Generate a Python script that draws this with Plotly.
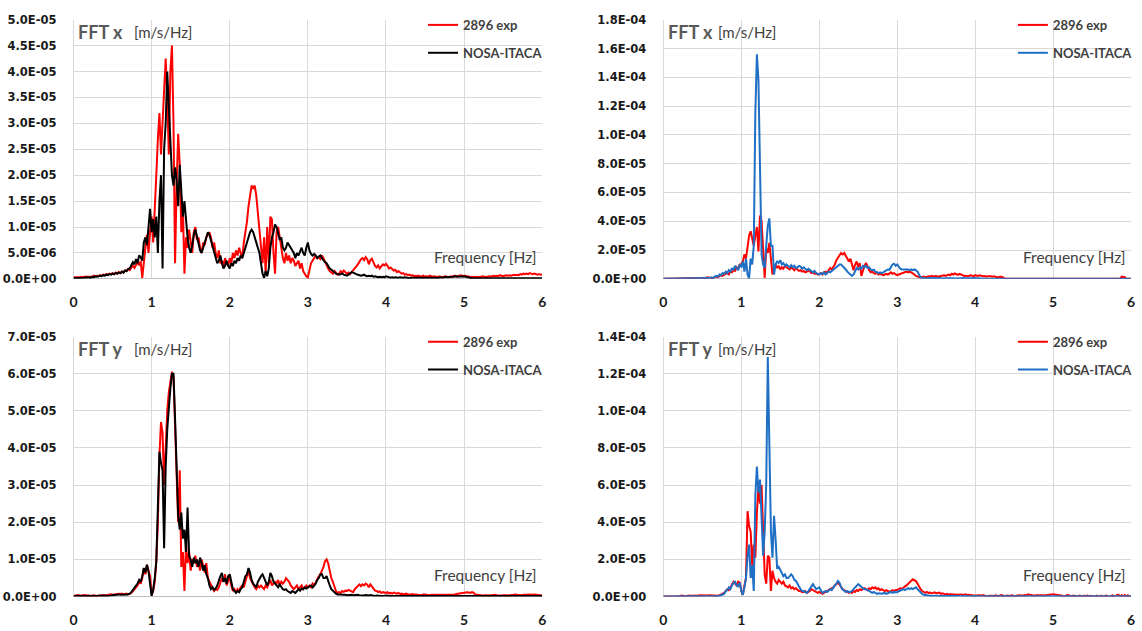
import numpy as np
import plotly.graph_objects as go

# ---------------- data (amplitudes in units of 1e-6 m/s/Hz) ----------------
# frequency grid: 0.00 .. 6.00 Hz, step 0.02 Hz (301 samples)
freq = np.round(np.arange(301) * 0.02, 2)

x_exp_left = [
    0.3, 0.3, 0.2, 0.3, 0.3, 0.4, 0.3, 0.4, 0.4, 0.5,
    0.4, 0.5, 0.4, 0.6, 0.5, 0.6, 0.5, 0.7, 0.6, 0.8,
    0.7, 0.9, 0.8, 1.0, 0.9, 1.1, 0.9, 1.2, 1.0, 1.3,
    1.1, 1.4, 1.2, 1.6, 1.5, 1.9, 1.7, 2.2, 2.5, 2.1,
    2.8, 3.2, 2.6, 3.4, 0.2, 3.5, 6.0, 8.5, 5.0, 9.0,
    12.0, 7.0, 15.0, 20.0, 27.0, 32.0, 24.0, 30.0, 38.0, 42.5,
    35.0, 24.0, 40.0, 45.0, 30.0, 3.0, 18.0, 28.0, 22.0, 9.0,
    14.0, 1.0, 8.0, 6.0, 9.5, 7.0, 5.0, 9.0, 10.0, 7.5,
    8.0, 6.0, 5.0, 7.0, 6.5, 8.0, 8.5, 9.0, 8.0, 6.0,
    7.0, 5.0, 4.0, 5.5, 3.0, 3.5, 2.5, 4.0, 3.0, 2.5,
    4.0, 3.0, 5.0, 4.0, 5.5, 4.5, 6.0, 5.0, 4.0, 7.0,
    9.0, 11.0, 14.0, 16.5, 18.0, 17.5, 18.0, 16.0, 13.0, 10.0,
    6.0, 3.0, 8.0, 1.0, 10.0, 3.0, 12.0, 11.5, 5.0, 1.0,
    9.0, 10.0, 8.0, 6.0, 4.0, 3.0, 5.0, 3.5, 4.5, 3.0,
    4.0, 3.5, 2.5, 3.0, 3.5, 2.0, 3.0, 1.5, 1.0, 0.5,
    0.3, 2.0, 3.0, 3.5, 4.0, 4.5, 4.0, 4.2, 3.8, 4.5,
    4.0, 3.2, 2.5, 2.0, 1.5, 1.2, 1.0, 1.5, 1.2, 0.8,
    1.0, 1.5, 1.2, 1.6, 1.3, 1.0, 1.2, 0.9, 1.3, 1.6,
    2.0, 2.4, 2.8, 3.4, 3.8, 4.0, 3.6, 4.2, 3.8, 2.8,
    3.6, 3.9, 3.2, 2.5, 2.2, 2.6, 2.0, 2.4, 2.8, 2.6,
    2.9, 2.5, 2.0, 2.2, 1.8, 1.6, 1.7, 1.3, 1.5, 1.2,
    1.0, 1.1, 0.8, 0.9, 0.7, 0.8, 0.6, 0.7, 0.5, 0.6,
    0.5, 0.6, 0.4, 0.5, 0.6, 0.4, 0.5, 0.4, 0.6, 0.5,
    0.4, 0.5, 0.4, 0.3, 0.5, 0.4, 0.3, 0.4, 0.5, 0.4,
    0.3, 0.4, 0.5, 0.4, 0.6, 0.5, 0.4, 0.6, 0.7, 0.6,
    0.5, 0.6, 0.4, 0.5, 0.3, 0.4, 0.3, 0.4, 0.3, 0.4,
    0.3, 0.4, 0.5, 0.4, 0.3, 0.4, 0.5, 0.4, 0.5, 0.6,
    0.5, 0.6, 0.5, 0.7, 0.6, 0.5, 0.6, 0.7, 0.6, 0.7,
    0.6, 0.7, 0.8, 0.7, 0.8, 0.7, 0.9, 0.8, 1.0, 0.9,
    1.0, 0.9, 1.1, 1.0, 0.9, 1.0, 0.9, 0.8, 0.9, 0.8,
    0.8,
]

x_nosa_left = [
    0.1, 0.1, 0.2, 0.1, 0.2, 0.2, 0.1, 0.2, 0.3, 0.2,
    0.3, 0.2, 0.4, 0.3, 0.5, 0.4, 0.5, 0.6, 0.5, 0.7,
    0.6, 0.8, 0.7, 0.9, 0.8, 1.0, 0.9, 1.1, 1.0, 1.2,
    1.1, 1.4, 1.2, 1.6, 1.5, 1.9, 2.0, 2.6, 3.2, 2.8,
    3.8, 3.0, 4.5, 4.2, 3.5, 7.0, 8.0, 6.5, 9.5, 13.5,
    9.0, 11.5, 8.0, 12.0, 5.0, 15.0, 20.0, 2.0, 25.0, 30.0,
    40.0, 33.0, 24.0, 20.0, 18.0, 21.5, 19.0, 14.0, 22.0, 16.0,
    12.0, 15.0, 11.0, 8.0, 6.0, 5.0, 6.5, 8.5, 9.5, 8.0,
    7.0, 5.5, 5.0, 6.0, 7.0, 8.0, 9.0, 8.5, 7.5, 6.5,
    5.0, 4.0, 3.0, 3.5, 4.5, 3.0, 2.0, 2.5, 3.5, 2.5,
    2.0, 3.0, 2.5, 3.5, 3.0, 4.0, 3.5, 4.5, 4.0, 5.0,
    6.0, 7.0, 8.0, 9.0, 9.5, 9.0, 8.0, 7.0, 6.0, 5.0,
    3.0, 1.0, 0.2, 1.5, 0.5, 2.0, 6.0, 8.0, 9.0, 10.5,
    10.0, 9.0, 7.5, 8.0, 6.0, 5.5, 6.0, 7.0, 6.5, 6.0,
    5.5, 5.0, 4.0, 5.0, 4.5, 5.5, 6.0, 5.0, 4.5, 6.0,
    7.0, 5.5, 4.8, 4.5, 4.8, 4.5, 4.0, 4.3, 4.5, 4.0,
    3.5, 3.2, 3.0, 2.5, 2.0, 1.8, 1.5, 1.2, 1.0, 0.9,
    0.8, 0.9, 1.0, 0.8, 0.7, 0.6, 0.8, 1.0, 1.3, 1.2,
    1.0, 0.9, 0.8, 0.7, 0.6, 0.7, 0.8, 0.6, 0.5, 0.6,
    0.5, 0.6, 0.4, 0.5, 0.4, 0.3, 0.4, 0.3, 0.4, 0.3,
    0.5, 0.4, 0.3, 0.2, 0.3, 0.2, 0.3, 0.2, 0.2, 0.3,
    0.2, 0.2, 0.3, 0.2, 0.2, 0.1, 0.2, 0.2, 0.1, 0.2,
    0.2, 0.1, 0.2, 0.2, 0.1, 0.2, 0.1, 0.1, 0.2, 0.1,
    0.1, 0.2, 0.1, 0.2, 0.2, 0.3, 0.2, 0.3, 0.3, 0.4,
    0.3, 0.4, 0.3, 0.4, 0.5, 0.4, 0.5, 0.4, 0.5, 0.4,
    0.5, 0.4, 0.3, 0.2, 0.2, 0.1, 0.1, 0.1, 0.1, 0.1,
    0.1, 0.2, 0.1, 0.1, 0.2, 0.1, 0.1, 0.1, 0.2, 0.1,
    0.1, 0.1, 0.2, 0.1, 0.1, 0.1, 0.2, 0.1, 0.1, 0.1,
    0.1, 0.2, 0.1, 0.1, 0.1, 0.2, 0.1, 0.1, 0.1, 0.2,
    0.1, 0.1, 0.1, 0.2, 0.1, 0.1, 0.1, 0.1, 0.2, 0.1,
    0.1,
]

y_exp_left = [
    0.2, 0.3, 0.2, 0.4, 0.3, 0.2, 0.3, 0.4, 0.3, 0.2,
    0.3, 0.2, 0.3, 0.4, 0.3, 0.2, 0.3, 0.4, 0.3, 0.4,
    0.3, 0.4, 0.5, 0.4, 0.6, 0.5, 0.6, 0.7, 0.6, 0.8,
    0.7, 0.8, 0.6, 0.7, 0.8, 0.6, 0.7, 1.0, 1.5, 2.0,
    2.5, 3.0, 4.0, 3.5, 5.0, 7.5, 6.0, 8.5, 7.0, 5.5,
    0.5, 1.5, 4.0, 9.5, 20.0, 38.0, 47.0, 44.0, 30.0, 41.0,
    50.0, 55.0, 58.0, 60.5, 59.0, 45.0, 31.0, 20.0, 34.0, 8.0,
    12.0, 1.5, 14.0, 9.0, 12.0, 7.0, 10.0, 9.0, 11.0, 8.0,
    9.5, 7.0, 10.0, 8.0, 6.5, 9.0, 5.0, 4.0, 3.0, 2.0,
    1.5, 2.0, 1.8, 2.5, 3.5, 5.0, 4.0, 6.0, 3.0, 4.5,
    5.5, 3.0, 1.5, 2.0, 1.0, 2.0, 1.5, 2.5, 3.0, 2.5,
    4.0, 6.0, 7.0, 5.0, 4.0, 3.0, 2.5, 2.0, 3.0, 2.5,
    3.0, 2.5, 2.0, 3.0, 2.5, 3.5, 4.5, 3.0, 3.5, 4.0,
    3.5, 4.5, 3.0, 4.0, 3.5, 4.0, 5.0, 4.5, 4.0, 3.0,
    2.5, 2.0, 2.5, 3.0, 2.0, 2.5, 3.0, 2.0, 2.5, 3.0,
    2.5, 3.0, 2.5, 3.5, 3.0, 4.0, 5.0, 5.5, 6.0, 6.8,
    8.0, 9.5, 10.0, 9.0, 6.5, 5.0, 4.0, 2.5, 1.5, 1.0,
    1.2, 1.0, 1.5, 1.3, 1.6, 1.5, 1.8, 1.6, 1.5, 1.2,
    2.0, 2.5, 3.0, 3.3, 2.8, 3.3, 3.0, 3.5, 3.2, 2.5,
    3.3, 2.8, 2.0, 1.6, 1.5, 1.2, 1.4, 1.0, 1.2, 1.0,
    1.0, 1.2, 0.9, 1.0, 0.8, 1.1, 0.9, 0.8, 1.0, 0.7,
    0.8, 0.6, 0.7, 0.8, 0.6, 0.5, 0.6, 0.7, 0.5, 0.6,
    0.5, 0.6, 0.5, 0.4, 0.6, 0.5, 0.6, 0.5, 0.4, 0.5,
    0.5, 0.4, 0.6, 0.5, 0.4, 0.5, 0.6, 0.5, 0.4, 0.5,
    0.4, 0.5, 0.6, 0.5, 0.6, 0.7, 0.8, 0.9, 1.0, 1.1,
    1.2, 1.1, 1.2, 1.1, 1.0, 1.2, 1.1, 0.6, 0.5, 0.4,
    0.5, 0.4, 0.3, 0.4, 0.5, 0.4, 0.3, 0.4, 0.3, 0.4,
    0.5, 0.4, 0.3, 0.4, 0.3, 0.4, 0.5, 0.4, 0.3, 0.4,
    0.5, 0.4, 0.5, 0.6, 0.5, 0.4, 0.5, 0.4, 0.5, 0.4,
    0.5, 0.6, 0.5, 0.4, 0.5, 0.6, 0.5, 0.4, 0.3, 0.4,
    0.3,
]

y_nosa_left = [
    0.1, 0.2, 0.1, 0.2, 0.1, 0.2, 0.2, 0.1, 0.2, 0.2,
    0.2, 0.1, 0.2, 0.2, 0.1, 0.2, 0.2, 0.3, 0.2, 0.3,
    0.3, 0.2, 0.3, 0.4, 0.3, 0.4, 0.5, 0.4, 0.5, 0.6,
    0.5, 0.6, 0.5, 0.6, 0.5, 0.6, 0.8, 1.2, 1.8, 2.4,
    3.0, 3.5, 4.5, 4.0, 5.5, 7.7, 6.5, 8.6, 6.8, 4.0,
    0.2, 2.0, 5.0, 9.5, 25.0, 39.0, 36.0, 34.0, 13.0, 35.0,
    45.0, 52.0, 56.0, 60.0, 60.0, 48.0, 31.0, 22.0, 18.0, 22.6,
    15.6, 18.0, 12.0, 24.0, 11.0, 10.0, 8.0, 10.5, 9.0, 10.0,
    8.0, 10.5, 9.0, 7.0, 8.5, 6.0, 5.0, 3.0, 2.0, 2.5,
    1.8, 2.2, 3.0, 4.5, 5.5, 6.4, 4.0, 5.0, 3.5, 5.5,
    6.0, 4.0, 2.0, 1.6, 1.0, 1.5, 1.2, 2.0, 2.5, 4.0,
    5.5, 6.0, 7.7, 6.5, 4.5, 3.5, 3.0, 2.5, 4.0, 5.0,
    5.5, 6.0, 5.0, 4.0, 3.0, 4.0, 6.4, 5.5, 4.0, 3.5,
    3.0, 2.5, 3.3, 2.5, 2.0, 1.8, 2.0, 1.5, 1.2, 1.0,
    1.5, 1.2, 1.0, 1.5, 2.0, 1.6, 2.2, 2.0, 2.5, 2.2,
    2.5, 2.8, 3.0, 2.5, 3.0, 3.5, 4.5, 5.0, 6.0, 6.0,
    5.0, 5.0, 5.5, 4.0, 3.0, 2.0, 1.5, 1.0, 0.8, 0.6,
    0.7, 0.6, 0.5, 0.6, 0.5, 0.4, 0.5, 0.4, 0.5, 0.4,
    0.5, 0.4, 0.5, 0.4, 0.3, 0.4, 0.3, 0.4, 0.3, 0.3,
    0.4, 0.3, 0.3, 0.2, 0.3, 0.2, 0.3, 0.2, 0.2, 0.3,
    0.2, 0.3, 0.2, 0.2, 0.1, 0.2, 0.2, 0.3, 0.2, 0.2,
    0.2, 0.1, 0.2, 0.2, 0.3, 0.2, 0.2, 0.1, 0.2, 0.2,
    0.2, 0.2, 0.1, 0.2, 0.2, 0.2, 0.3, 0.2, 0.2, 0.1,
    0.2, 0.2, 0.2, 0.1, 0.2, 0.2, 0.2, 0.2, 0.1, 0.2,
    0.2, 0.2, 0.3, 0.2, 0.2, 0.2, 0.1, 0.2, 0.2, 0.2,
    0.2, 0.3, 0.2, 0.2, 0.2, 0.1, 0.2, 0.2, 0.2, 0.2,
    0.1, 0.2, 0.2, 0.2, 0.2, 0.2, 0.1, 0.2, 0.2, 0.2,
    0.2, 0.2, 0.1, 0.2, 0.2, 0.2, 0.2, 0.1, 0.2, 0.2,
    0.2, 0.2, 0.2, 0.1, 0.2, 0.2, 0.2, 0.2, 0.2, 0.1,
    0.2, 0.2, 0.2, 0.2, 0.1, 0.2, 0.2, 0.2, 0.2, 0.2,
    0.2,
]

x_exp_right = [
    0, 0, 0, 0, 0, 0, 0, 0, 0, 0,
    0, 0, 0, 0, 0, 0, 0, 0, 0, 0,
    0, 0, 0, 0, 0, 0.5, 0.8, 0.5, 1.0, 0.7,
    0.8, 0.5, 0.7, 1.0, 1.5, 1.2, 2.0, 2.5, 2.0, 3.0,
    3.5, 4.0, 3.0, 5.0, 4.5, 6.0, 5.5, 8.0, 7.0, 10.0,
    10.0, 12.0, 17.0, 14.0, 23.0, 30.0, 33.0, 28.0, 23.0, 30.0,
    36.0, 19.0, 44.0, 40.0, 19.0, 0.7, 21.0, 18.0, 25.0, 14.0,
    3.0, 8.0, 10.0, 7.5, 9.0, 6.5, 8.0, 7.0, 9.0, 8.0,
    7.0, 6.5, 8.0, 7.0, 6.0, 7.5, 6.5, 5.5, 6.0, 5.0,
    5.5, 4.5, 5.0, 6.0, 5.0, 4.0, 4.5, 3.5, 4.0, 3.0,
    3.5, 4.0, 3.0, 4.5, 5.0, 4.0, 6.0, 7.5, 6.5, 8.0,
    10.0, 13.0, 15.0, 17.0, 18.0, 17.0, 18.0, 16.0, 14.0, 12.0,
    14.0, 9.0, 6.0, 10.0, 12.0, 8.0, 11.0, 2.0, 6.0, 9.0,
    11.0, 8.0, 6.0, 4.5, 5.0, 4.0, 3.5, 4.5, 3.0, 3.5,
    3.0, 2.5, 3.0, 3.5, 3.0, 4.0, 4.5, 3.5, 4.0, 3.0,
    2.5, 3.0, 3.5, 4.0, 4.5, 5.0, 5.0, 4.5, 5.0, 4.5,
    4.0, 3.0, 2.0, 1.5, 1.2, 1.0, 1.2, 1.5, 1.0, 1.5,
    1.8, 1.5, 2.0, 1.6, 1.8, 2.0, 1.5, 1.8, 2.2, 2.0,
    2.5, 2.0, 2.8, 3.0, 2.5, 3.5, 3.0, 3.8, 3.2, 2.8,
    3.5, 3.0, 2.5, 2.0, 2.2, 1.8, 2.0, 2.5, 2.2, 2.0,
    2.5, 2.2, 2.0, 2.4, 2.0, 1.8, 2.0, 1.5, 1.8, 2.0,
    1.8, 1.5, 1.8, 1.5, 1.2, 1.0, 1.5, 1.2, 1.0, 0,
    0, 0, 0, 0, 0, 0, 0, 0, 0, 0,
    0, 0, 0, 0, 0, 0, 0, 0, 0, 0,
    0, 0, 0, 0, 0, 0, 0, 0, 0, 0,
    0, 0, 0, 0, 0, 0, 0, 0, 0, 0,
    0, 0, 0, 0, 0, 0, 0, 0, 0, 0,
    0, 0, 0, 0, 0, 0, 0, 0, 0, 0,
    0, 0, 0, 0, 0, 0, 0, 0, 0, 0,
    0, 0, 0, 0, 1.5, 1.5, 1.2, 0, 0, 0,
    0,
]

x_nosa_right = [
    0, 0, 0, 0, 0, 0, 0, 0, 0, 0,
    0, 0, 0, 0, 0, 0, 0, 0, 0, 0,
    0, 0, 0, 0, 0, 0, 0, 0, 0, 0,
    0.5, 1.0, 0.5, 1.5, 2.0, 1.5, 3.0, 2.5, 4.0, 3.5,
    5.0, 4.0, 6.0, 5.0, 7.5, 6.0, 9.0, 7.5, 6.0, 10.0,
    8.0, 12.0, 5.0, 14.0, 3.0, 0.3, 14.0, 10.0, 23.0, 115.0,
    156.0, 138.0, 69.0, 17.0, 10.0, 7.5, 23.0, 37.0, 42.0, 23.0,
    23.0, 3.0, 10.0, 12.0, 11.0, 13.0, 10.0, 11.0, 9.0, 10.0,
    9.0, 8.0, 9.5, 8.0, 9.0, 7.5, 8.0, 9.0, 8.5, 7.0,
    8.0, 7.0, 6.0, 7.0, 6.0, 5.0, 4.5, 5.5, 4.0, 3.5,
    3.0, 4.0, 3.5, 4.5, 3.0, 4.0, 5.0, 4.5, 5.5, 6.0,
    7.0, 8.0, 9.0, 10.0, 10.0, 9.0, 8.0, 6.5, 5.0, 4.0,
    3.0, 2.0, 3.0, 5.0, 7.5, 6.5, 8.0, 7.0, 9.0, 8.0,
    9.0, 7.5, 8.0, 6.5, 6.0, 6.4, 5.0, 4.5, 4.0, 4.5,
    4.0, 4.5, 5.0, 6.0, 6.5, 6.4, 8.0, 10.0, 10.5, 9.0,
    10.0, 8.0, 7.0, 6.5, 6.5, 7.0, 6.5, 6.5, 6.0, 6.5,
    6.0, 6.5, 6.0, 5.0, 3.0, 1.0, 0.8, 0.5, 0.5, 0.3,
    0.5, 0.3, 0.5, 0.4, 0.5, 0.3, 0.4, 0.5, 0.3, 0.4,
    0.3, 0.4, 0.5, 0.3, 0.4, 0.5, 0.4, 0.3, 0.4, 0.5,
    0.4, 0.3, 0.4, 0.5, 0.4, 0.3, 0.4, 0.3, 0.4, 0.5,
    0.5, 0.6, 0.5, 0.4, 0.3, 0.2, 0.2, 0.1, 0, 0,
    0, 0, 0, 0, 0, 0, 0, 0, 0, 0,
    0, 0, 0, 0, 0, 0, 0, 0, 0, 0,
    0, 0, 0, 0, 0, 0, 0, 0, 0, 0,
    0, 0, 0, 0, 0, 0, 0, 0, 0, 0,
    0, 0, 0, 0, 0, 0, 0, 0, 0, 0,
    0, 0, 0, 0, 0, 0, 0, 0, 0, 0,
    0, 0, 0, 0, 0, 0, 0, 0, 0, 0,
    0, 0, 0, 0, 0, 0, 0, 0, 0, 0,
    0, 0, 0, 0, 0, 0, 0, 0, 0, 0,
    0,
]

y_exp_right = [
    0, 0, 0, 0, 0, 0, 0, 0, 0, 0,
    0, 0.5, 0.7, 0.5, 0, 0.4, 0.6, 0.5, 0.4, 0.6,
    0.5, 0.6, 0.4, 0.7, 0.6, 0.8, 0.5, 0.7, 0.6, 0.8,
    0.7, 0.6, 0.8, 0.7, 0.6, 0.5, 0.7, 1.0, 1.5, 2.0,
    3.0, 4.0, 3.5, 5.0, 6.0, 8.0, 7.0, 6.0, 8.0, 7.5,
    3.0, 1.0, 6.0, 10.0, 46.0, 38.0, 35.0, 17.0, 28.0, 21.0,
    45.0, 59.0, 50.0, 60.0, 35.0, 12.0, 7.0, 22.0, 21.0, 3.0,
    14.0, 10.0, 8.0, 7.0, 9.0, 8.0, 7.0, 8.0, 6.0, 5.5,
    5.0, 6.0, 4.5, 5.0, 4.0, 4.5, 3.5, 3.0, 3.0, 2.5,
    2.5, 3.0, 2.0, 2.5, 3.0, 4.0, 3.5, 3.0, 2.5, 2.0,
    2.5, 2.0, 1.5, 2.0, 2.5, 3.0, 3.5, 4.0, 4.5, 5.0,
    6.0, 7.0, 7.5, 6.5, 5.0, 4.0, 3.5, 3.0, 2.5, 2.0,
    2.5, 2.0, 3.0, 2.5, 3.5, 3.0, 4.0, 3.5, 4.0, 4.5,
    4.0, 3.5, 4.5, 4.0, 5.0, 4.5, 5.0, 4.0, 4.5, 3.5,
    4.0, 3.5, 3.0, 3.5, 3.0, 2.5, 3.0, 3.5, 3.0, 3.5,
    3.5, 4.0, 4.5, 4.0, 5.0, 5.5, 6.0, 7.0, 7.5, 8.5,
    9.3, 9.0, 8.4, 7.0, 5.0, 4.0, 3.0, 2.5, 2.0, 2.5,
    2.0, 2.2, 1.8, 2.0, 2.3, 1.8, 2.0, 2.2, 1.5, 1.8,
    1.5, 1.2, 1.5, 1.0, 1.3, 1.2, 1.5, 1.0, 1.2, 1.0,
    1.2, 1.0, 0.8, 1.0, 1.2, 0.8, 1.0, 0.7, 0.8, 0.6,
    0.8, 0.6, 0.7, 0.5, 0.6, 0.8, 0.5, 0.6, 0, 0.5,
    0.6, 0.5, 0, 0.7, 0.5, 0, 0.6, 0.8, 0.5, 0,
    0.5, 0.6, 0, 0.7, 0.6, 0.5, 0, 0.6, 0.8, 0.7,
    0.5, 0.8, 0.9, 0.7, 1.2, 1.0, 0.8, 0.6, 0.5, 0.7,
    0.8, 0.7, 1.0, 0.8, 0.6, 0.8, 1.0, 0.9, 1.0, 1.2,
    1.3, 1.2, 1.0, 1.2, 0.8, 0.6, 0.5, 0, 0.6, 0.8,
    0.7, 0.5, 0, 0.6, 0.4, 0.5, 0, 0.6, 0.5, 0,
    0.5, 0, 0.6, 0, 0.5, 0.4, 0, 0, 0.5, 0,
    0, 0.5, 0, 0, 0.6, 0, 0, 0, 0.7, 0,
    0, 0.9, 1.0, 0, 0.8, 0, 0.9, 0, 0.7, 0,
    0,
]

y_nosa_right = [
    0, 0, 0, 0, 0, 0, 0, 0, 0, 0,
    0, 0, 0, 0, 0, 0, 0, 0, 0, 0,
    0, 0, 0, 0, 0, 0, 0, 0, 0, 0,
    0, 0, 0, 0, 0.2, 0.3, 0.5, 0.8, 1.0, 1.5,
    3.0, 3.5, 5.0, 4.0, 6.0, 7.5, 8.0, 6.0, 5.5, 7.5,
    3.0, 1.0, 5.0, 10.0, 22.0, 28.0, 10.0, 17.0, 3.0, 54.0,
    70.0, 56.0, 63.0, 38.0, 22.0, 35.0, 61.0, 129.0, 86.0, 35.0,
    21.0, 43.5, 31.0, 15.0, 16.0, 14.0, 13.0, 11.0, 12.0, 10.0,
    10.0, 11.0, 12.0, 11.0, 9.0, 8.5, 7.0, 5.0, 4.0, 3.0,
    3.0, 2.5, 2.0, 3.0, 4.0, 5.5, 6.7, 5.0, 4.0, 4.5,
    5.0, 3.5, 2.0, 2.5, 3.0, 2.5, 3.5, 4.0, 3.5, 5.0,
    6.0, 7.0, 8.4, 7.5, 5.0, 4.0, 3.0, 2.5, 3.0, 2.5,
    2.5, 3.0, 4.0, 5.0, 6.0, 6.7, 6.0, 5.0, 4.5, 4.0,
    4.0, 3.5, 3.0, 2.5, 2.0, 2.5, 2.0, 1.5, 1.8, 1.5,
    1.5, 1.8, 2.0, 1.5, 2.0, 2.2, 2.5, 2.0, 2.5, 2.2,
    2.5, 2.8, 3.0, 3.5, 4.0, 3.5, 4.0, 4.5, 4.0, 4.5,
    4.0, 4.5, 5.0, 4.0, 3.0, 2.5, 1.5, 1.0, 0.8, 0.6,
    0.5, 0.6, 0.4, 0.5, 0.6, 0.4, 0.5, 0.4, 0.3, 0.4,
    0.3, 0.4, 0.3, 0.3, 0.4, 0.3, 0.2, 0.3, 0.3, 0.2,
    0.3, 0.2, 0.3, 0.2, 0.2, 0.3, 0.2, 0.2, 0.3, 0.2,
    0.2, 0.3, 0.2, 0.2, 0.2, 0.3, 0.2, 0.2, 0.2, 0.3,
    0.2, 0.2, 0.3, 0.2, 0.2, 0.2, 0.3, 0.2, 0.2, 0.2,
    0.2, 0.3, 0.2, 0.2, 0.2, 0.2, 0.3, 0.2, 0.2, 0.2,
    0.2, 0.2, 0.3, 0.2, 0.2, 0.2, 0.2, 0.3, 0.2, 0.2,
    0.2, 0.2, 0.2, 0.3, 0.2, 0.2, 0.2, 0.2, 0.2, 0.3,
    0.2, 0.2, 0.2, 0.2, 0.1, 0.2, 0.2, 0.2, 0.1, 0.2,
    0.2, 0.1, 0.2, 0.2, 0.2, 0.1, 0.2, 0.2, 0.1, 0.2,
    0.2, 0.2, 0.1, 0.2, 0.2, 0.1, 0.2, 0.2, 0.2, 0.1,
    0.2, 0.2, 0.1, 0.2, 0.2, 0.2, 0.1, 0.2, 0.2, 0.2,
    0.1, 0.2, 0.2, 0.1, 0.2, 0.2, 0.2, 0.1, 0.2, 0.2,
    0.2,
]

x_ticks = [0, 1, 2, 3, 4, 5, 6]
y_ticks_tl = [0, 5e-6, 1e-5, 1.5e-5, 2e-5, 2.5e-5, 3e-5, 3.5e-5, 4e-5, 4.5e-5, 5e-5]
y_ticks_bl = [0, 1e-5, 2e-5, 3e-5, 4e-5, 5e-5, 6e-5, 7e-5]
y_ticks_tr = [0, 2e-5, 4e-5, 6e-5, 8e-5, 1e-4, 1.2e-4, 1.4e-4, 1.6e-4, 1.8e-4]
y_ticks_br = [0, 2e-5, 4e-5, 6e-5, 8e-5, 1e-4, 1.2e-4, 1.4e-4]

series_names = ["2896 exp", "NOSA-ITACA"]
UNIT = 1e-6

# ---------------- layout geometry ----------------
W, H = 1142, 631
FONT = "Lato, Carlito, 'Open Sans', sans-serif"
TICKFONT = "'DejaVu Sans', Lato, sans-serif"
RED = "#ff0000"
BLACK = "#000000"
BLUE = "#1f6fc5"
GRID = "#d9d9d9"

def px_x(p):
    return p / W

def px_y(p):
    return 1 - p / H

panels = [
    # (xaxis id, yaxis id, x domain px, y domain px, exp data, nosa data, nosa colour, y ticks, title, legend)
    ("x", "y", (70, 542), (13, 278), x_exp_left, x_nosa_left, BLACK, y_ticks_tl, "FFT x", "legend"),
    ("x2", "y2", (664, 1135), (13, 278), x_exp_right, x_nosa_right, BLUE, y_ticks_tr, "FFT x", "legend2"),
    ("x3", "y3", (70, 542), (337, 603), y_exp_left, y_nosa_left, BLACK, y_ticks_bl, "FFT y", "legend3"),
    ("x4", "y4", (664, 1135), (337, 603), y_exp_right, y_nosa_right, BLUE, y_ticks_br, "FFT y", "legend4"),
]

fig = go.Figure()
layout = dict(
    width=W, height=H, autosize=False,
    margin=dict(l=0, r=0, t=0, b=0),
    paper_bgcolor="white", plot_bgcolor="white",
    font=dict(family=FONT, color="#262626"),
    annotations=[],
)

for i, (xa, ya, xd, yd, exp_vals, nosa_vals, ncol, yt, title, leg) in enumerate(panels):
    fig.add_trace(go.Scatter(
        x=freq, y=np.array(exp_vals) * UNIT, mode="lines", name=series_names[0],
        line=dict(color=RED, width=2), xaxis=xa, yaxis=ya, legend=leg,
        legendgroup=f"g{i}a",
    ))
    fig.add_trace(go.Scatter(
        x=freq, y=np.array(nosa_vals) * UNIT, mode="lines", name=series_names[1],
        line=dict(color=ncol, width=2), xaxis=xa, yaxis=ya, legend=leg,
        legendgroup=f"g{i}b",
    ))
    xkey = "xaxis" + xa[1:]
    ykey = "yaxis" + ya[1:]
    layout[xkey] = dict(
        domain=[px_x(xd[0]), px_x(xd[1])], anchor=ya, range=[0, 6],
        tickvals=x_ticks, ticktext=[str(t) for t in x_ticks],
        showgrid=True, gridcolor=GRID, gridwidth=1,
        zeroline=True, zerolinecolor=GRID, zerolinewidth=1,
        showline=False, ticks="", ticklabelstandoff=13,
        tickfont=dict(family=FONT, size=14, color="#1a1a1a", weight="bold"),
        fixedrange=True,
    )
    layout[ykey] = dict(
        domain=[px_y(yd[1]), px_y(yd[0])], anchor=xa, range=[0, yt[-1]],
        tickvals=yt, ticktext=[f"{v:.1E}" for v in yt],
        showgrid=True, gridcolor=GRID, gridwidth=1,
        zeroline=True, zerolinecolor="#bfbfbf", zerolinewidth=1,
        showline=False, ticks="", ticklabelstandoff=16,
        tickfont=dict(family=TICKFONT, size=11.5, color="#1a1a1a", weight="bold"),
        fixedrange=True,
    )
    # legend placement
    text_x = 464 if xd[0] < 300 else 1058
    top_y = yd[0]
    layout[leg] = dict(
        x=px_x(text_x - 42), xanchor="left",
        y=px_y(top_y - 10), yanchor="top",
        bgcolor="rgba(0,0,0,0)", borderwidth=0,
        font=dict(family=FONT, size=13, color="#404040", weight="bold"),
        tracegroupgap=8, itemwidth=30, traceorder="grouped",
    )
    # titles
    tx = xd[0] + 3
    ty = top_y + 13
    layout["annotations"].append(dict(
        text="<b>" + title + "</b>", xref="paper", yref="paper",
        x=px_x(tx), y=px_y(ty), xanchor="left", yanchor="middle",
        showarrow=False, font=dict(family=FONT, size=18, color="#595959"),
    ))
    layout["annotations"].append(dict(
        text="[m/s/Hz]", xref="paper", yref="paper",
        x=px_x(tx + (56 if xd[0] < 300 else 50)), y=px_y(ty), xanchor="left", yanchor="middle",
        showarrow=False, font=dict(family=FONT, size=15, color="#404040"),
    ))
    layout["annotations"].append(dict(
        text="Frequency [Hz]", xref="paper", yref="paper",
        x=px_x(xd[1] - 3), y=px_y(yd[1] - 22), xanchor="right", yanchor="middle",
        showarrow=False, font=dict(family=FONT, size=15.5, color="#404040"),
    ))

fig.update_layout(**layout)
fig.write_html("out.html")
